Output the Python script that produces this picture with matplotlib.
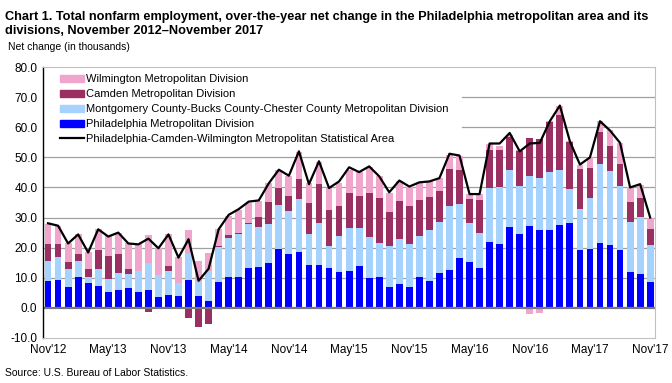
import numpy as np
import matplotlib
matplotlib.use("Agg")
import matplotlib.pyplot as plt
from matplotlib.lines import Line2D
from matplotlib.patches import Patch

plt.rcParams["font.family"] = ["Liberation Sans", "DejaVu Sans"]

# ── data (thousands, over-the-year change) ───────────────────────────────────
months = [
    "Nov'12", "Dec'12", "Jan'13", "Feb'13", "Mar'13", "Apr'13", "May'13", "Jun'13",
    "Jul'13", "Aug'13", "Sep'13", "Oct'13", "Nov'13", "Dec'13", "Jan'14", "Feb'14",
    "Mar'14", "Apr'14", "May'14", "Jun'14", "Jul'14", "Aug'14", "Sep'14", "Oct'14",
    "Nov'14", "Dec'14", "Jan'15", "Feb'15", "Mar'15", "Apr'15", "May'15", "Jun'15",
    "Jul'15", "Aug'15", "Sep'15", "Oct'15", "Nov'15", "Dec'15", "Jan'16", "Feb'16",
    "Mar'16", "Apr'16", "May'16", "Jun'16", "Jul'16", "Aug'16", "Sep'16", "Oct'16",
    "Nov'16", "Dec'16", "Jan'17", "Feb'17", "Mar'17", "Apr'17", "May'17", "Jun'17",
    "Jul'17", "Aug'17", "Sep'17", "Oct'17", "Nov'17",
]

philadelphia = [
    8.9, 9.1, 7.0, 10.3, 8.3, 7.3, 5.3, 6.1, 6.6, 5.4, 6.1, 3.6, 4.3, 4.1, 9.2, 3.9,
    2.2, 8.7, 10.1, 10.1, 13.3, 13.7, 15.0, 19.4, 17.8, 18.4, 14.4, 14.4, 13.1, 12.0,
    12.2, 14.0, 10.0, 10.3, 7.0, 7.8, 6.8, 10.3, 8.9, 11.7, 12.6, 16.7, 15.3, 13.4,
    22.0, 21.2, 27.0, 24.6, 27.3, 25.9, 25.9, 27.6, 28.1, 19.2, 19.6, 21.7, 20.9,
    19.2, 12.0, 11.3, 8.7,
]
montgomery = [
    6.7, 7.8, 5.9, 5.3, 2.0, 5.6, 4.3, 5.5, 4.8, 6.9, 8.7, 7.3, 7.8, 4.2, 8.9, 5.1,
    10.1, 11.6, 13.2, 14.4, 14.7, 13.3, 12.9, 14.8, 14.5, 17.7, 10.3, 13.7, 7.5, 12.0,
    14.2, 12.4, 13.7, 11.4, 13.6, 15.0, 14.4, 13.6, 17.0, 16.7, 21.4, 17.9, 13.0, 11.4,
    17.8, 19.1, 18.9, 16.0, 16.6, 17.4, 19.1, 18.3, 11.3, 13.6, 16.8, 26.2, 24.7,
    21.4, 16.4, 18.9, 12.2,
]
camden = [
    5.7, 4.4, 2.4, 2.2, 2.5, 6.3, 7.5, 6.2, 1.5, 0.1, -1.3, 0.1, 1.7, 0.1, -3.2, -6.4,
    -5.2, 0.2, 1.0, 0.5, 0.3, 3.1, 7.4, 5.6, 4.7, 6.8, 10.3, 13.0, 12.0, 9.7,
    11.9, 10.9, 14.6, 14.7, 11.4, 12.8, 12.8, 11.8, 10.9, 10.5, 12.2, 11.1, 7.8, 10.9,
    12.8, 12.0, 10.8, 11.4, 12.5, 12.9, 16.8, 18.1, 15.7, 13.3, 10.0, 10.5, 8.1,
    7.3, 6.9, 6.2, 5.3,
]
wilmington = [
    6.7, 5.9, 6.1, 6.6, 5.6, 6.9, 6.8, 7.2, 8.5, 8.7, 9.4, 8.9, 10.6, 8.4, 7.8, 6.6,
    5.8, 5.6, 6.3, 7.6, 6.6, 5.5, 6.1, 6.1, 6.7, 8.8, 6.4, 7.2, 7.2, 7.7,
    7.6, 7.7, 8.4, 7.3, 6.1, 6.4, 6.3, 5.7, 5.2, 4.4, 4.7, 4.6, 1.8, 2.1,
    1.8, 1.6, 0.6, 0.3, -2.1, -1.7, 0.4, 3.0, 0.2, 1.2, 3.6, 3.6, 5.5,
    6.9, 4.7, 4.5, 3.8,
]
msa_total = [
    28.1, 27.3, 21.4, 24.4, 18.4, 26.1, 23.7, 25.0, 21.4, 21.1, 23.0, 19.8, 24.4, 16.7,
    22.8, 9.0, 13.0, 26.1, 30.9, 32.8, 35.3, 35.7, 41.4, 45.9, 43.9, 52.0, 41.1, 48.7,
    39.8, 42.0, 46.7, 45.1, 47.0, 43.7, 38.4, 42.3, 40.3, 41.7, 42.0, 43.1, 51.2, 50.6,
    37.8, 37.8, 54.6, 54.6, 58.1, 52.0, 54.6, 54.8, 62.0, 67.2, 55.3, 47.6, 50.0, 62.0,
    58.9, 54.8, 40.0, 41.1, 30.0,
]

series = [
    ("Philadelphia Metropolitan Division", philadelphia, "#0000ff"),
    ("Montgomery County-Bucks County-Chester County Metropolitan Division", montgomery, "#a6d2ff"),
    ("Camden Metropolitan Division", camden, "#9a2f62"),
    ("Wilmington Metropolitan Division", wilmington, "#f0a6cc"),
]
line_label = "Philadelphia-Camden-Wilmington Metropolitan Statistical Area"

# ── figure ───────────────────────────────────────────────────────────────────
fig = plt.figure(figsize=(6.72, 3.83), dpi=100)
ax = fig.add_axes([0.064, 0.1175, 0.911, 0.7075])

x = np.arange(len(months))
pos_base = np.zeros(len(x))
neg_base = np.zeros(len(x))
for name, vals, col in series:
    v = np.array(vals)
    bottom = np.where(v >= 0, pos_base, neg_base)
    ax.bar(x, v, bottom=bottom, width=0.68, color=col, linewidth=0, zorder=2)
    pos_base += np.where(v >= 0, v, 0)
    neg_base += np.where(v < 0, v, 0)

ax.plot(x, msa_total, color="black", lw=1.6, zorder=3)

ax.set_xlim(-0.5, len(x) - 0.5)
ax.set_ylim(-10, 80)

# gridlines (legend panel hides the 60/70 lines on the left)
for yv in [10, 20, 30, 40, 50]:
    ax.axhline(yv, color="#a0a0a0", lw=0.9, zorder=1)
for yv in [60, 70]:
    ax.axhline(yv, xmin=0.685, color="#a0a0a0", lw=0.9, zorder=1)
ax.axhline(0, color="#777777", lw=1.6, zorder=2.5)

for s in ["top", "right", "bottom"]:
    ax.spines[s].set_color("#c0c0c0")
    ax.spines[s].set_linewidth(0.8)
ax.spines["left"].set_color("black")
ax.spines["left"].set_linewidth(1.0)

ax.set_yticks(np.arange(-10, 81, 10))
ax.set_yticklabels([f"{v:.1f}" for v in np.arange(-10, 81, 10)], fontsize=8.5)
ax.set_xticks(x[::6])
ax.set_xticklabels(months[::6], fontsize=8.5)
ax.tick_params(axis="both", length=0, pad=4)

handles = [
    Patch(color="#f0a6cc", label="Wilmington Metropolitan Division"),
    Patch(color="#9a2f62", label="Camden Metropolitan Division"),
    Patch(color="#a6d2ff", label="Montgomery County-Bucks County-Chester County Metropolitan Division"),
    Patch(color="#0000ff", label="Philadelphia Metropolitan Division"),
    Line2D([0], [0], color="black", lw=1.6, label=line_label),
]
ax.legend(handles=handles, loc="upper left", bbox_to_anchor=(0.02, 0.99),
          frameon=False, fontsize=8.0, handlelength=2.2, handleheight=0.65,
          handletextpad=0.2, labelspacing=0.45, borderaxespad=0)

fig.text(0.008, 0.972,
         "Chart 1. Total nonfarm employment, over-the-year net change in the Philadelphia metropolitan area and its\n"
         "divisions, November 2012\u2013November 2017",
         fontsize=9.2, fontweight="bold", va="top", ha="left", linespacing=1.3)
fig.text(0.012, 0.878, "Net change (in thousands)", fontsize=7.5, va="center", ha="left")
fig.text(0.008, 0.025, "Source: U.S. Bureau of Labor Statistics.", fontsize=7.5, va="center", ha="left")

fig.savefig("out.png", dpi=100)
